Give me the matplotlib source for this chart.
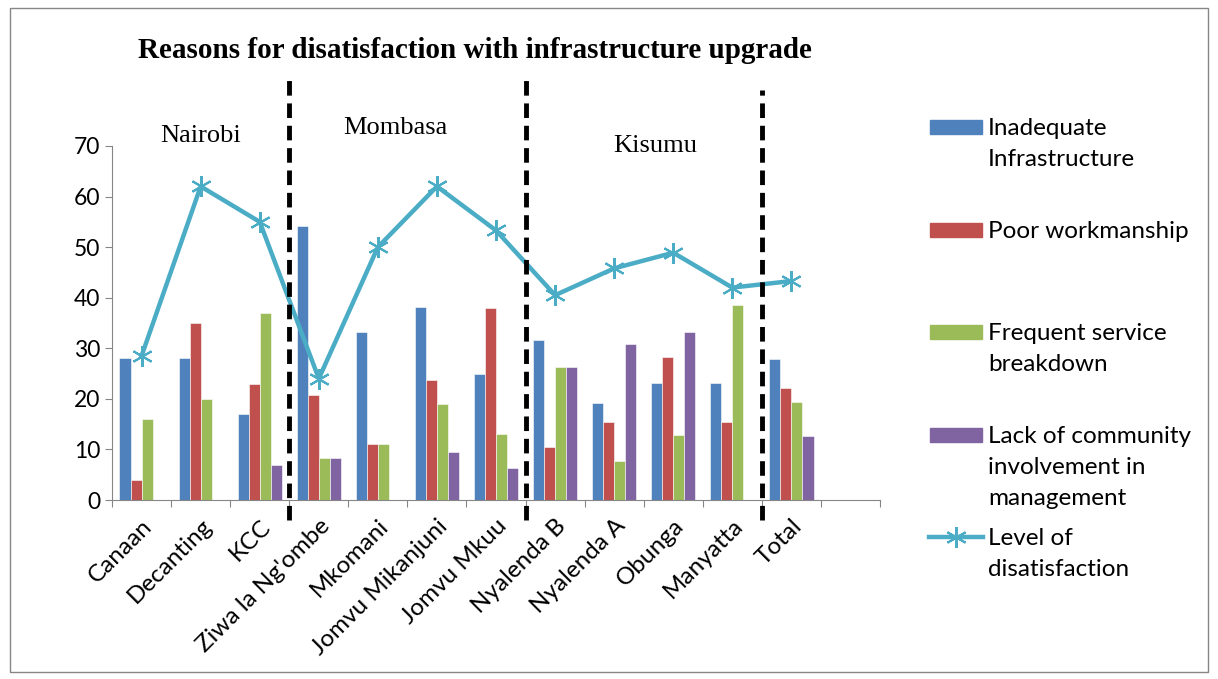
import numpy as np
import matplotlib.pyplot as plt
from matplotlib.patches import Rectangle
from matplotlib.lines import Line2D

sites = ["Canaan", "Decanting", "KCC", "Ziwa la Ng'ombe", "Mkomani",
         "Jomvu Mikanjuni", "Jomvu Mkuu", "Nyalenda B", "Nyalenda A",
         "Obunga", "Manyatta", "Total"]
inadequate = [28, 28, 17, 54.2, 33.3, 38.1, 25, 31.6, 19.2, 23.1, 23.1, 27.8]
poor_work = [4, 35, 23, 20.8, 11.1, 23.8, 38, 10.5, 15.4, 28.2, 15.4, 22.2]
breakdown = [16, 20, 37, 8.3, 11.1, 19.0, 13, 26.3, 7.7, 12.8, 38.5, 19.4]
lack_comm = [0, 0, 7, 8.3, 0, 9.5, 6.3, 26.3, 30.8, 33.3, 0, 12.6]
dissatisfaction = [28.5, 62, 55, 24, 50, 62, 53.3, 40.5, 45.8, 48.9, 42, 43.3]

series = [
    ("Inadequate\nInfrastructure", inadequate, "#4F81BD"),
    ("Poor workmanship", poor_work, "#C0504D"),
    ("Frequent service\nbreakdown", breakdown, "#9BBB59"),
    ("Lack of community\ninvolvement in\nmanagement", lack_comm, "#8064A2"),
]
line_label = "Level of\ndisatisfaction"
line_color = "#4BACC6"

regions = ["Nairobi", "Mombasa", "Kisumu"]
region_x = [1.0, 4.3, 8.7]
region_y = [72, 73.5, 70]
dividers = [2.5, 6.5, 10.5]

plt.rcParams['font.family'] = ['Lato', 'DejaVu Sans']

fig = plt.figure(figsize=(12.18, 6.79), dpi=100)
ax = fig.add_axes([0.092, 0.2636, 0.6305, 0.5214])

x = np.arange(len(sites))
w = 0.1875
for i, (name, vals, col) in enumerate(series):
    ax.bar(x + (i - 1.5) * w, vals, w, color=col, edgecolor='white', linewidth=0.4)

ax.plot(x, dissatisfaction, color=line_color, lw=3.2, marker=(6, 2, 0),
        markersize=15, markeredgewidth=1.5, zorder=4)

ax.set_xlim(-0.5, 12.5)
ax.set_ylim(0, 70)
ax.set_yticks(range(0, 71, 10))
ax.set_xticks(np.arange(-0.5, 13, 1), minor=False)
ax.set_xticklabels([])
ax.set_xticks(x, minor=True)
ax.set_xticklabels(sites, minor=True, rotation=45, ha='right', rotation_mode='anchor',
                   fontsize=17.5)
ax.tick_params(axis='x', which='minor', length=0, pad=11)
ax.tick_params(axis='x', which='major', length=5, color='#868686')
ax.tick_params(axis='y', length=5, color='#868686', labelsize=16.5)
for s in ['top', 'right']:
    ax.spines[s].set_visible(False)
for s in ['left', 'bottom']:
    ax.spines[s].set_color('#868686')

for d, top in zip(dividers, [83, 83, 81]):
    ax.plot([d, d], [-4, top], color='black', lw=3.5, ls=(0, (3, 1.6)),
            clip_on=False, zorder=5)

for name, rx, ry in zip(regions, region_x, region_y):
    ax.text(rx, ry, name, ha='center', va='center', fontsize=19,
            family='Liberation Serif')

fig.text(0.39, 0.925, "Reasons for disatisfaction with infrastructure upgrade",
         ha='center', va='center', fontsize=21, fontweight='bold',
         family='Liberation Serif')

# legend
ys = [127, 230, 332, 435, 537]
for (name, vals, col), yp in zip(series, ys):
    fig.add_artist(Rectangle((930 / 1218, 1 - (yp + 7) / 679), 52 / 1218, 14 / 679,
                             color=col, transform=fig.transFigure))
    fig.text(988 / 1218, 1 - (yp - 9) / 679, name, ha='left', va='top',
             fontsize=17.5, linespacing=1.58)
yp = ys[4]
fig.add_artist(Line2D([929 / 1218, 983 / 1218], [1 - yp / 679] * 2, color=line_color,
                      lw=3.2, transform=fig.transFigure))
fig.add_artist(Line2D([956 / 1218], [1 - yp / 679], color=line_color, marker=(6, 2, 0),
                      markersize=15, markeredgewidth=1.5, transform=fig.transFigure))
fig.text(988 / 1218, 1 - (yp - 9) / 679, line_label, ha='left', va='top',
         fontsize=17.5, linespacing=1.58)

fig.add_artist(Rectangle((10 / 1218, 7 / 679), 1198 / 1218, 664 / 679, fill=False,
                         edgecolor='#868686', lw=1, transform=fig.transFigure))

fig.savefig("out.png", dpi=100)
